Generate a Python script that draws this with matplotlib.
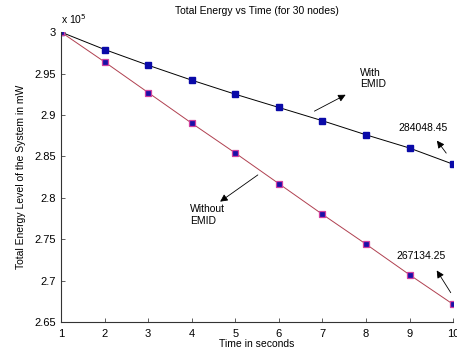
import matplotlib
matplotlib.use("Agg")
import matplotlib.pyplot as plt
from matplotlib.ticker import FuncFormatter

plt.rcParams['font.family'] = ['Liberation Sans', 'DejaVu Sans']

time_s = [1, 2, 3, 4, 5, 6, 7, 8, 9, 10]
with_emid = [300000, 297900, 296000, 294200, 292500, 290900, 289300, 287600, 286000, 284048.45]
without_emid = [300000, 296400, 292700, 289000, 285400, 281700, 278000, 274400, 270700, 267134.25]
x_ticks = [1, 2, 3, 4, 5, 6, 7, 8, 9, 10]
y_ticks = [265000, 270000, 275000, 280000, 285000, 290000, 295000, 300000]

fig = plt.figure(figsize=(4.57, 3.49), dpi=100)
ax = fig.add_axes([0.1335, 0.0774, 0.858, 0.8306])

ax.plot(time_s, with_emid, color='black', lw=0.7, marker='s', markersize=4.5,
        markerfacecolor='#0a0aa8', markeredgecolor='#0a0aa8')
ax.plot(time_s, without_emid, color='#b04050', lw=0.7, marker='s', markersize=4.5,
        markerfacecolor='#1a10a8', markeredgecolor='#d040a0', markeredgewidth=0.9)

ax.set_xlim(1, 10)
ax.set_ylim(265000, 300000)
ax.set_xticks(x_ticks)
ax.set_yticks(y_ticks)
ax.yaxis.set_major_formatter(FuncFormatter(lambda v, p: '%g' % round(v / 1e5, 4)))
ax.tick_params(direction='in', length=3, labelsize=8, width=0.6, color='#444444')
ax.tick_params(axis='x', pad=5)
for s in ['top', 'right']:
    ax.spines[s].set_visible(False)
for s in ['left', 'bottom']:
    ax.spines[s].set_linewidth(0.8)
    ax.spines[s].set_color('#333333')

ax.text(0.0, 1.02, r'x 10$^5$', transform=ax.transAxes, fontsize=7.5, va='bottom', ha='left')
ax.set_title('Total Energy vs Time (for 30 nodes)', fontsize=7.5, pad=13)
ax.set_xlabel('Time in seconds', fontsize=7.5, labelpad=0)
ax.set_ylabel('Total Energy Level of the System in mW', fontsize=7.5, labelpad=6)

arrow = dict(arrowstyle='-|>', color='black', lw=0.6, mutation_scale=11)
ax.annotate('', xy=(7.59, 292590), xytext=(6.76, 290301), arrowprops=arrow)
ax.text(7.86, 295700, 'With\nEMID', fontsize=7.5, va='top', ha='left', linespacing=1.2)
ax.annotate('', xy=(9.59, 287169), xytext=(9.88, 285120), arrowprops=arrow)
ax.text(8.74, 288373, '284048.45', fontsize=7.5, va='center', ha='left')
ax.annotate('', xy=(4.60, 279337), xytext=(5.57, 282952), arrowprops=arrow)
ax.text(3.96, 279200, 'Without\nEMID', fontsize=7.5, va='top', ha='left', linespacing=1.2)
ax.annotate('', xy=(9.59, 271506), xytext=(9.98, 268253), arrowprops=arrow)
ax.text(8.71, 272952, '267134.25', fontsize=7.5, va='center', ha='left')

fig.savefig('out.png', dpi=100)
